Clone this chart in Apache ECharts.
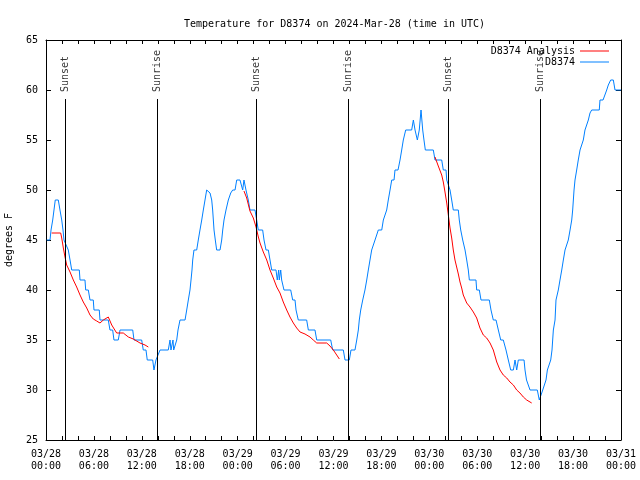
<!DOCTYPE html>
<html><head><meta charset="utf-8">
<script src="https://cdn.jsdelivr.net/npm/echarts@6.0.0/dist/echarts.min.js"></script>
<style>html,body{margin:0;padding:0;background:#fff}#c{width:640px;height:480px}</style>
</head><body><div id="c"></div>
<script>
// hours since 2024-03-28 00:00 UTC
const obsHours = [0.09,0.50,0.63,0.84,1.00,1.16,1.54,1.75,1.97,2.13,2.25,2.50,2.79,3.01,3.22,4.17,4.26,4.88,4.97,5.30,5.51,5.92,6.01,6.67,6.76,7.80,8.01,8.35,8.51,9.05,9.27,10.86,11.02,11.98,12.18,12.52,12.68,13.36,13.52,13.77,14.28,15.31,15.53,15.65,15.90,15.99,16.37,16.53,16.69,16.78,17.41,17.62,17.82,18.03,18.16,18.28,18.37,18.53,18.87,19.07,19.28,19.50,19.70,19.91,20.12,20.32,20.54,20.75,20.87,21.04,21.20,21.37,21.79,22.00,22.13,22.29,22.54,22.83,23.13,23.38,23.67,23.88,24.29,24.48,24.63,24.79,25.04,25.33,25.54,26.17,26.38,26.58,27.13,27.30,27.55,27.84,28.05,28.26,28.80,28.96,29.14,29.21,29.39,29.51,29.80,30.64,30.89,31.18,31.31,31.59,32.64,32.85,33.68,33.90,35.65,35.90,37.23,37.44,37.98,38.19,38.69,38.91,39.11,39.23,39.41,39.66,39.94,40.16,40.36,40.57,40.78,40.98,41.20,41.41,41.61,42.04,42.24,42.45,42.66,42.86,43.08,43.29,43.58,43.70,44.08,44.33,44.54,44.74,45.04,45.79,46.00,46.21,46.50,46.74,46.96,47.17,47.33,47.50,48.50,48.71,49.55,49.75,50.09,50.18,50.59,50.80,51.00,51.63,51.75,51.93,52.18,52.47,52.68,52.88,53.01,53.84,53.93,54.26,54.47,55.51,55.72,56.01,56.35,56.64,56.94,57.26,57.60,57.89,58.19,58.52,58.73,58.94,59.14,59.86,59.98,60.17,60.61,61.52,61.77,61.95,62.20,62.36,62.61,62.78,63.03,63.20,63.36,63.53,63.74,63.86,64.15,64.36,64.58,64.78,64.99,65.20,65.40,65.62,65.83,65.95,66.12,66.24,66.45,66.65,66.87,67.28,67.49,67.71,67.91,68.12,68.33,69.28,69.37,69.75,70.21,70.41,70.71,71.04,71.25,72.00];
const obsTemps = [45,45,46,47,48,49,49,48,47,46,45,45,44,43,42,42,41,41,40,40,39,39,38,38,37,37,36,36,35,35,36,36,35,35,34,34,33,33,32,33,34,34,35,34,35,34,35,36,36,37,37,38,39,40,41,42,43,44,44,45,46,47,48,49,50,50,49.7,49,48,46,45,44,44,45,46,47,48,49,49.7,50,50,51,51,51,50,51,50,49,48,48,47,46,46,45,44,44,43,42,42,41,42,41,42,41,40,40,39,39,38,37,37,36,36,35,35,34,34,33,33,34,34,35,36,37,38,39,40,41,42,43,44,44,45,45,46,46,47,47,48,49,50,51,51,52,52,53,54,55,56,56,57,56,55,56,58,56,55,54,54,53,53,52,52,51,50,49,48,48,47,46,45,44,43,42,41,41,40,40,39,39,38,37,37,36,35,35,34,33,32,32,33,32,33,33,32,31,30,30,29,29,30,30,31,32,32,33,34,36,37,39,40,41,42,43,44,44,45,46,47,48,50,51,52,53,54,55,56,56,57,57.7,58,58,59,59,60,60.5,61,61,60,60];

const anaHours1 = [0.71,1.84,1.97,2.17,2.38,2.59,3.01,3.42,3.84,4.26,4.67,5.10,5.51,5.92,6.35,6.76,7.18,7.80,8.23,8.85,9.68,10.31,10.93,11.77,12.40,12.81];
const anaTemps1 = [45.7,45.7,45.2,44.2,43.3,42.5,41.8,41.0,40.3,39.5,38.8,38.2,37.5,37.1,36.9,36.7,37.0,37.3,36.5,35.7,35.7,35.3,35.1,34.7,34.5,34.3];
const anaHours2 = [24.79,25.13,25.54,25.96,26.30,26.59,26.80,27.21,27.64,28.05,28.46,28.89,29.30,29.71,30.14,30.55,30.97,31.39,31.81,32.43,33.06,33.47,33.90,35.15,35.56,35.98,36.40,36.73];
const anaTemps2 = [49.9,49.2,47.9,47.2,46.3,45.3,44.7,43.8,43.0,42.0,41.2,40.3,39.7,38.8,38.0,37.3,36.7,36.2,35.8,35.6,35.3,35.0,34.7,34.7,34.4,34.0,33.5,33.1];
const anaHours3 = [48.71,49.12,49.55,49.75,49.96,50.18,50.38,50.59,50.80,51.00,51.21,51.42,51.63,51.84,52.05,52.25,52.68,53.09,53.51,53.93,54.34,54.76,55.18,55.60,56.01,56.44,56.85,57.26,57.69,58.10,58.52,58.94,59.35,59.77,60.19,60.82];
const anaTemps3 = [53.3,52.4,51.5,50.8,49.8,48.7,47.5,46.2,45.2,44.0,43.0,42.3,41.6,40.8,40.2,39.5,38.7,38.3,37.8,37.2,36.2,35.5,35.2,34.7,34.0,32.8,32.0,31.5,31.2,30.8,30.5,30.0,29.7,29.3,29.0,28.7];

const sunHours = [2.42,13.94,26.36,37.85,50.38,61.90];
const sunNames = ['Sunset','Sunrise','Sunset','Sunrise','Sunset','Sunrise'];

const xTickLabels = ['03/28\n00:00','03/28\n06:00','03/28\n12:00','03/28\n18:00','03/29\n00:00','03/29\n06:00','03/29\n12:00','03/29\n18:00','03/30\n00:00','03/30\n06:00','03/30\n12:00','03/30\n18:00','03/31\n00:00'];

const FONT = 'DejaVu Sans Mono';
const zip = (a, b) => a.map((v, i) => [v, b[i]]);

const chart = echarts.init(document.getElementById('c'), null, {renderer: 'canvas'});
const txt = {fontFamily: FONT, fontSize: 10, color: '#000'};

const xBase = {
  type: 'value', min: 0, max: 72, interval: 2,
  axisLine: {show: true, onZero: false, lineStyle: {color: '#000', width: 1}},
  axisTick: {show: true, inside: true, length: 4, lineStyle: {color: '#000'}},
  splitLine: {show: false}
};
const yBase = {
  type: 'value', min: 25, max: 65, interval: 5,
  axisLine: {show: true, onZero: false, lineStyle: {color: '#000', width: 1}},
  axisTick: {show: true, inside: true, length: 5, lineStyle: {color: '#000'}},
  splitLine: {show: false}
};

const series = [
  {name: 'D8374', type: 'line', data: zip(obsHours, obsTemps), showSymbol: false, symbol: 'none',
   lineStyle: {color: '#0080ff', width: 1}, itemStyle: {color: '#0080ff'}, z: 3},
  {name: 'D8374 Analysis', type: 'line', data: zip(anaHours1, anaTemps1), symbol: 'none',
   lineStyle: {color: '#ff0000', width: 1}, itemStyle: {color: '#ff0000'}, z: 4},
  {name: 'D8374 Analysis', type: 'line', data: zip(anaHours2, anaTemps2), symbol: 'none',
   lineStyle: {color: '#ff0000', width: 1}, itemStyle: {color: '#ff0000'}, z: 4},
  {name: 'D8374 Analysis', type: 'line', data: zip(anaHours3, anaTemps3), symbol: 'none',
   lineStyle: {color: '#ff0000', width: 1}, itemStyle: {color: '#ff0000'}, z: 4},
  {name: 'sun', type: 'line', data: [], symbol: 'none', z: 5,
   markLine: {symbol: 'none', silent: true, animation: false,
     lineStyle: {color: '#000', width: 1, type: 'solid'}, label: {show: false},
     data: sunHours.map(h => [{coord: [h, 25]}, {coord: [h, 59.1]}])}},
  {name: 'sunlabels', type: 'scatter', symbolSize: 0, z: 6,
   data: sunHours.map((h, i) => ({value: [h, 59.8], name: sunNames[i]})),
   label: {show: true, formatter: '{b}', position: 'inside', rotate: 90, align: 'left', verticalAlign: 'middle',
     fontFamily: FONT, fontSize: 10, color: '#000'}}
];

chart.setOption({
  animation: false,
  backgroundColor: '#fff',
  title: {text: 'Temperature for D8374 on 2024-Mar-28 (time in UTC)', left: 179, top: 14,
    textStyle: {fontFamily: FONT, fontSize: 10, fontWeight: 'normal', color: '#000'}},
  legend: [
    {data: [{name: 'D8374 Analysis', icon: 'rect'}], orient: 'vertical', align: 'right', right: 26, top: 41,
     itemWidth: 29, itemHeight: 1, textStyle: txt, selectedMode: false},
    {data: [{name: 'D8374', icon: 'rect'}], orient: 'vertical', align: 'right', right: 26, top: 52,
     itemWidth: 29, itemHeight: 1, textStyle: txt, selectedMode: false}
  ],
  grid: {left: 46, right: 19, top: 40, bottom: 40, containLabel: false, outerBoundsMode: 'none'},
  xAxis: [
    Object.assign({}, xBase, {position: 'bottom',
      axisLabel: {show: true, margin: 8, fontFamily: FONT, fontSize: 10, color: '#000', lineHeight: 12,
        showMinLabel: true, showMaxLabel: true,
        formatter: v => (Math.round(v) % 6 === 0 ? xTickLabels[Math.round(v) / 6] : '')}}),
    Object.assign({}, xBase, {position: 'top', axisLabel: {show: false}})
  ],
  yAxis: [
    Object.assign({}, yBase, {position: 'left', name: 'degrees F', nameLocation: 'middle', nameGap: 32,
      nameTextStyle: {fontFamily: FONT, fontSize: 10, color: '#000'},
      axisLabel: {show: true, margin: 8, fontFamily: FONT, fontSize: 10, color: '#000'}}),
    Object.assign({}, yBase, {position: 'right', axisLabel: {show: false}})
  ],
  series: series
});
</script>
</body></html>
